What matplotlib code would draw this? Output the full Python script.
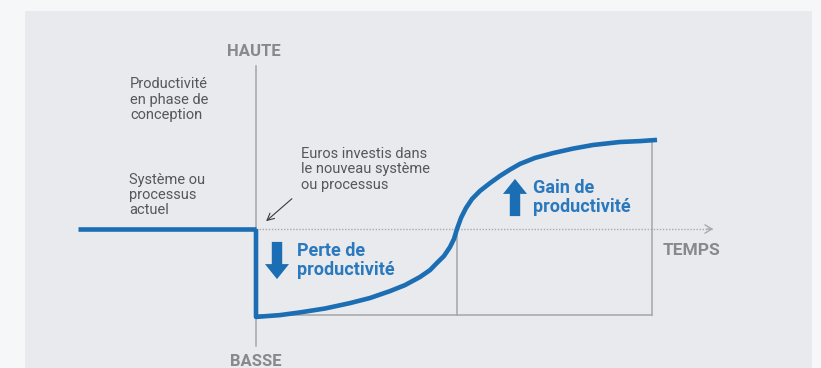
import matplotlib.pyplot as plt
from matplotlib.patches import Rectangle, FancyArrow

plt.rcParams['font.family'] = ['Roboto', 'DejaVu Sans']

# time / productivity units (0 = moment of investment, 0 = current productivity)
old_t = [-4.45, 0.0]
old_p = [0.0, 0.0]

new_t = [0.0, 0.0, 0.6, 1.1, 1.725, 2.35, 2.85, 3.35, 3.725, 4.1, 4.35, 4.525,
         4.7, 4.85, 4.95, 5.025, 5.125, 5.25, 5.4, 5.6, 5.85, 6.1, 6.35,
         6.6, 6.975, 7.425, 7.925, 8.425, 9.1, 9.6, 10.025]
new_p = [0.0, -2.93, -2.87, -2.78, -2.65, -2.47, -2.3, -2.07, -1.87, -1.6,
         -1.37, -1.13, -0.9, -0.6, -0.33, 0.0, 0.37, 0.7, 1.0, 1.27, 1.53,
         1.77, 1.98, 2.17, 2.37, 2.53, 2.68, 2.8, 2.9, 2.93, 2.97]

t_breakeven = 5.025
t_end = 9.9
p_floor = -2.87
p_top = 2.93

blue = '#1b6db4'
grey = '#a3a5a8'
text_grey = '#555759'
label_grey = '#88898b'

fig = plt.figure(figsize=(8.21, 3.68), dpi=100)
fig.patch.set_facecolor('#f6f7f8')

ax = fig.add_axes([0, 0, 1, 1])
ax.set_xlim(-6.4, 14.125)
ax.set_ylim(-4.633, 7.633)
ax.axis('off')
ax.patch.set_alpha(0)

# grey panel behind the diagram
ax.add_patch(Rectangle((25 / 821, 0), 787 / 821, 357 / 368,
                       transform=fig.transFigure, facecolor='#e8eaed',
                       edgecolor='none', zorder=0))

# vertical productivity axis
ax.plot([0, 0], [5.43, -3.9], color=grey, lw=1.1, zorder=1)
ax.text(-0.05, 5.9, 'HAUTE', ha='center', va='center', fontsize=12,
        color=label_grey, fontweight='bold')
ax.text(0.0, -4.43, 'BASSE', ha='center', va='center', fontsize=12,
        color=label_grey, fontweight='bold')

# time axis (dotted) with open arrow head
ax.plot([0, 11.4], [0, 0], color='#a8aaad', lw=1.0, ls=(0, (1, 1.2)), zorder=1)
ax.annotate('', xy=(11.5, 0), xytext=(11.2, 0),
            arrowprops=dict(arrowstyle='->,head_length=0.5,head_width=0.3',
                            color='#a8aaad', lw=1.0))
ax.text(10.875, -0.7, 'TEMPS', ha='center', va='center', fontsize=12.5,
        color=label_grey, fontweight='bold')

# box under the curve
ax.plot([0, t_end], [p_floor, p_floor], color=grey, lw=1.1, zorder=1)
ax.plot([t_breakeven, t_breakeven], [0, p_floor], color=grey, lw=1.1, zorder=1)
ax.plot([t_end, t_end], [p_top, p_floor], color=grey, lw=1.1, zorder=1)

# productivity curves
ax.plot(old_t, old_p, color=blue, lw=3.3, solid_capstyle='butt', zorder=3)
ax.plot(new_t, new_p, color=blue, lw=3.3, solid_capstyle='butt',
        solid_joinstyle='round', zorder=3)

# loss / gain arrows
ax.add_patch(FancyArrow(0.525, -0.43, 0, -0.74, width=0.26, head_width=0.6,
                        head_length=0.5, length_includes_head=False,
                        color=blue, lw=0, zorder=3))
ax.add_patch(FancyArrow(6.475, 0.43, 0, 0.74, width=0.26, head_width=0.6,
                        head_length=0.5, length_includes_head=False,
                        color=blue, lw=0, zorder=3))

ax.text(1.025, -0.42, 'Perte de\nproductivité', ha='left', va='top',
        fontsize=13, color='#2a78bd', fontweight='bold', linespacing=1.1)
ax.text(6.93, 1.68, 'Gain de\nproductivité', ha='left', va='top',
        fontsize=13, color='#2a78bd', fontweight='bold', linespacing=1.1)

# descriptive labels
ax.text(-3.15, 5.05, 'Productivité\nen phase de\nconception', ha='left',
        va='top', fontsize=10.5, color=text_grey, linespacing=1.1)
ax.text(-3.175, 1.88, 'Système ou\nprocessus\nactuel', ha='left', va='top',
        fontsize=10.5, color=text_grey, linespacing=1.1)
ax.text(1.125, 2.72, 'Euros investis dans\nle nouveau système\nou processus',
        ha='left', va='top', fontsize=10.5, color=text_grey, linespacing=1.1)
ax.annotate('', xy=(0.2, 0.2), xytext=(0.95, 1.07),
            arrowprops=dict(arrowstyle='->,head_length=0.5,head_width=0.25',
                            color='#3a3a3a', lw=0.8))

fig.savefig('out.png', dpi=100, facecolor=fig.get_facecolor())
